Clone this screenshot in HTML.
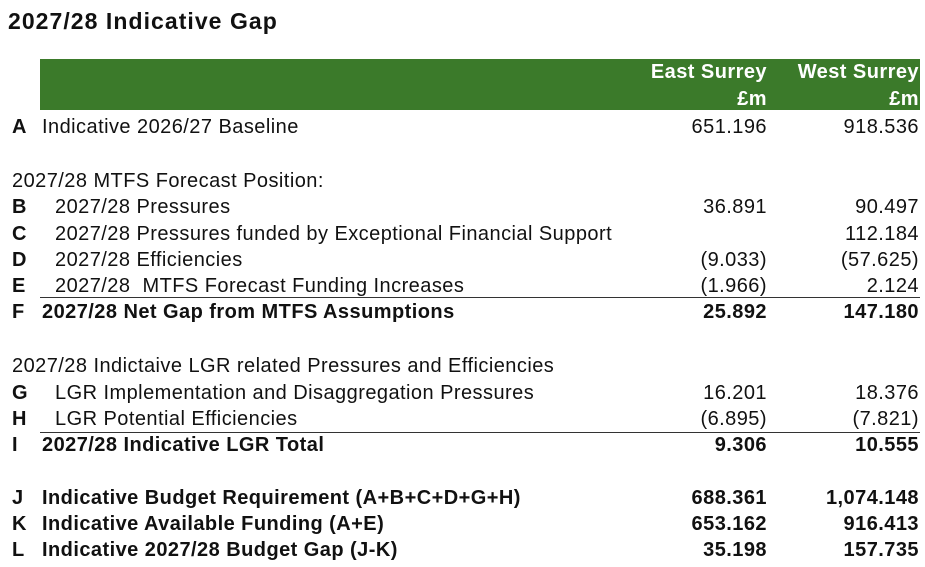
<!DOCTYPE html>
<html><head><meta charset="utf-8"><style>
body{margin:0;width:925px;height:567px;background:#fff;font-family:"Liberation Sans",Arial,sans-serif;color:#111;position:relative;overflow:hidden}
div{position:absolute;white-space:nowrap;line-height:20px;font-size:20px;letter-spacing:0.45px}
.b{font-weight:bold}
.l{left:12px;font-weight:bold;letter-spacing:0}
.e{right:158px;text-align:right}
.w{right:6px;text-align:right}
.hr{height:1px;background:#333;left:40px;width:880px}
</style></head><body>
<div class="b" style="left:8px;top:9px;font-size:23px;line-height:24px;letter-spacing:1.05px">2027/28 Indicative Gap</div>
<div style="left:40px;top:59px;width:880px;height:51px;background:#3b7a2a"></div>
<div class="b e" style="top:62px;color:#fff">East Surrey</div>
<div class="b w" style="top:62px;color:#fff">West Surrey</div>
<div class="b e" style="top:89px;color:#fff">£m</div>
<div class="b w" style="top:89px;color:#fff">£m</div>

<div class="l" style="top:117px">A</div><div style="left:42px;top:117px">Indicative 2026/27 Baseline</div><div class="e" style="top:117px">651.196</div><div class="w" style="top:117px">918.536</div>

<div style="left:12px;top:171px">2027/28 MTFS Forecast Position:</div>
<div class="l" style="top:197px">B</div><div style="left:55px;top:197px">2027/28 Pressures</div><div class="e" style="top:197px">36.891</div><div class="w" style="top:197px">90.497</div>
<div class="l" style="top:224px">C</div><div style="left:55px;top:224px">2027/28 Pressures funded by Exceptional Financial Support</div><div class="w" style="top:224px">112.184</div>
<div class="l" style="top:250px">D</div><div style="left:55px;top:250px">2027/28 Efficiencies</div><div class="e" style="top:250px">(9.033)</div><div class="w" style="top:250px">(57.625)</div>
<div class="l" style="top:276px">E</div><div style="left:55px;top:276px">2027/28&nbsp; MTFS Forecast Funding Increases</div><div class="e" style="top:276px">(1.966)</div><div class="w" style="top:276px">2.124</div>
<div class="hr" style="top:297px"></div>
<div class="l" style="top:302px">F</div><div class="b" style="left:42px;top:302px">2027/28 Net Gap from MTFS Assumptions</div><div class="b e" style="top:302px">25.892</div><div class="b w" style="top:302px">147.180</div>

<div style="left:12px;top:356px">2027/28 Indictaive LGR related Pressures and Efficiencies</div>
<div class="l" style="top:383px">G</div><div style="left:55px;top:383px">LGR Implementation and Disaggregation Pressures</div><div class="e" style="top:383px">16.201</div><div class="w" style="top:383px">18.376</div>
<div class="l" style="top:409px">H</div><div style="left:55px;top:409px">LGR Potential Efficiencies</div><div class="e" style="top:409px">(6.895)</div><div class="w" style="top:409px">(7.821)</div>
<div class="hr" style="top:432px"></div>
<div class="l" style="top:435px">I</div><div class="b" style="left:42px;top:435px">2027/28 Indicative LGR Total</div><div class="b e" style="top:435px">9.306</div><div class="b w" style="top:435px">10.555</div>

<div class="l" style="top:488px">J</div><div class="b" style="left:42px;top:488px">Indicative Budget Requirement (A+B+C+D+G+H)</div><div class="b e" style="top:488px">688.361</div><div class="b w" style="top:488px">1,074.148</div>
<div class="l" style="top:514px">K</div><div class="b" style="left:42px;top:514px">Indicative Available Funding (A+E)</div><div class="b e" style="top:514px">653.162</div><div class="b w" style="top:514px">916.413</div>
<div class="l" style="top:540px">L</div><div class="b" style="left:42px;top:540px">Indicative 2027/28 Budget Gap (J-K)</div><div class="b e" style="top:540px">35.198</div><div class="b w" style="top:540px">157.735</div>
</body></html>
